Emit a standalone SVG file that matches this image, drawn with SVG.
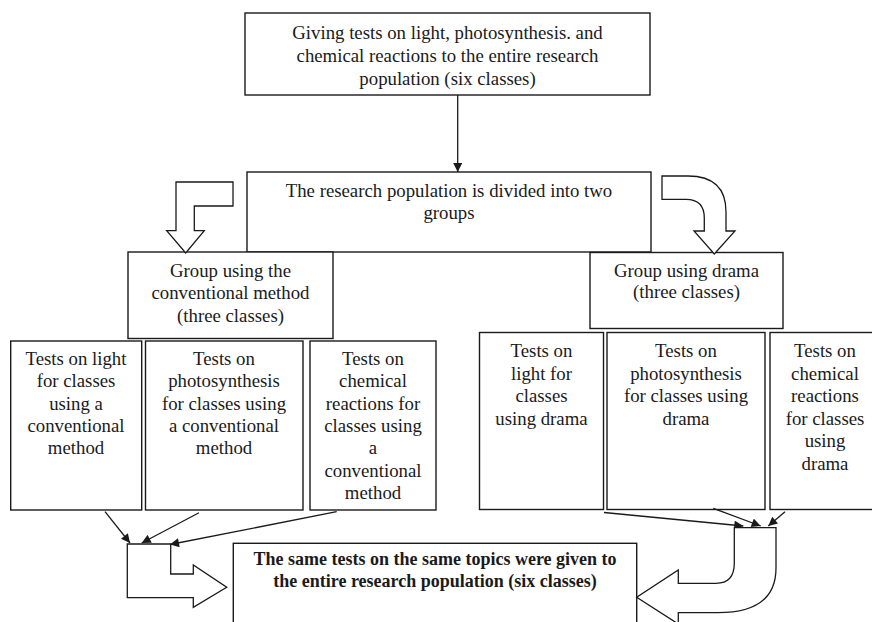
<svg xmlns="http://www.w3.org/2000/svg" width="872" height="622" viewBox="0 0 872 622" font-family="'Liberation Serif', 'Times New Roman', serif">
<style>
.box{fill:#fff;stroke:#1a1a1a;stroke-width:1.4}
.hol{fill:#fff;stroke:#1a1a1a;stroke-width:1.3;stroke-linejoin:miter}
.ln{fill:none;stroke:#1a1a1a;stroke-width:1.3}
text{font-family:'Liberation Serif','Times New Roman',serif;font-size:18.8px;fill:#1a1a1a;text-anchor:middle}
.b{font-weight:bold;font-size:18px}
</style>
<defs>
<marker id="ah" viewBox="0 0 10 10" refX="10" refY="5" markerWidth="10" markerHeight="9" markerUnits="userSpaceOnUse" orient="auto">
<path d="M0,0 L10,5 L0,10 Z" fill="#1a1a1a"/>
</marker>
</defs>
<rect width="872" height="622" fill="#fff"/>
<g id="n-top">
<rect class="box" x="245" y="13" width="405" height="82"/>
<text x="447.5" y="39">Giving tests on light, photosynthesis. and</text>
<text x="447.5" y="62">chemical reactions to the entire research</text>
<text x="447.5" y="85">population (six classes)</text>
</g>
<g id="n-divided">
<rect class="box" x="247" y="172" width="404" height="80"/>
<text x="449" y="197">The research population is divided into two</text>
<text x="449" y="219">groups</text>
</g>
<g id="n-conv">
<rect class="box" x="128" y="252" width="205" height="86.5"/>
<text x="230.5" y="277">Group using the</text>
<text x="230.5" y="299">conventional method</text>
<text x="230.5" y="322">(three classes)</text>
</g>
<g id="n-drama">
<rect class="box" x="590" y="252.5" width="193" height="76"/>
<text x="686.5" y="277">Group using drama</text>
<text x="686.5" y="298">(three classes)</text>
</g>
<g id="n-c1">
<rect class="box" x="10.7" y="341" width="131" height="169"/>
<text x="76" y="365">Tests on light</text>
<text x="76" y="387.3">for classes</text>
<text x="76" y="409.6">using a</text>
<text x="76" y="431.9">conventional</text>
<text x="76" y="454.2">method</text>
</g>
<g id="n-c2">
<rect class="box" x="145.5" y="341" width="157.5" height="169"/>
<text x="224" y="365">Tests on</text>
<text x="224" y="387.3">photosynthesis</text>
<text x="224" y="409.6">for classes using</text>
<text x="224" y="431.9">a conventional</text>
<text x="224" y="454.2">method</text>
</g>
<g id="n-c3">
<rect class="box" x="310" y="341" width="126" height="169"/>
<text x="373" y="365">Tests on</text>
<text x="373" y="387.3">chemical</text>
<text x="373" y="409.6">reactions for</text>
<text x="373" y="431.9">classes using</text>
<text x="373" y="454.2">a</text>
<text x="373" y="476.5">conventional</text>
<text x="373" y="498.8">method</text>
</g>
<g id="n-d1">
<rect class="box" x="479.5" y="332.5" width="124" height="177"/>
<text x="541.5" y="357">Tests on</text>
<text x="541.5" y="379.5">light for</text>
<text x="541.5" y="402">classes</text>
<text x="541.5" y="424.5">using drama</text>
</g>
<g id="n-d2">
<rect class="box" x="607" y="332.5" width="158" height="177"/>
<text x="686" y="357">Tests on</text>
<text x="686" y="379.5">photosynthesis</text>
<text x="686" y="402">for classes using</text>
<text x="686" y="424.5">drama</text>
</g>
<g id="n-d3">
<rect class="box" x="770" y="332.5" width="110" height="177"/>
<text x="825" y="357">Tests on</text>
<text x="825" y="379.5">chemical</text>
<text x="825" y="402">reactions</text>
<text x="825" y="424.5">for classes</text>
<text x="825" y="447">using</text>
<text x="825" y="469.5">drama</text>
</g>
<g id="n-bottom">
<rect class="box" x="233.3" y="543.3" width="403.4" height="90"/>
<text class="b" x="435" y="565">The same tests on the same topics were given to</text>
<text class="b" x="435" y="587">the entire research population (six classes)</text>
</g>
<g id="connectors">
<line class="ln" x1="457.7" y1="95" x2="457.7" y2="172" marker-end="url(#ah)"/>
<path class="hol" d="M176,182 L233,182 L233,206 L194.3,206 L194.3,230.7 L204.3,230.7 L185.7,253 L166.7,230.7 L176,230.7 Z"/>
<path class="hol" d="M662,176 L688,176 Q726,176 726,212 L726,231 L735,231 L714.3,254 L694,231 L704.3,231 L704.3,218 Q704.3,199.3 686,199.3 L662,199.3 Z"/>
<line class="ln" x1="105" y1="511.7" x2="130" y2="543" marker-end="url(#ah)"/>
<line class="ln" x1="199" y1="512.7" x2="141.7" y2="543" marker-end="url(#ah)"/>
<line class="ln" x1="336.7" y1="511.7" x2="170" y2="544.5" marker-end="url(#ah)"/>
<path class="hol" d="M127.3,544 L170.7,544 L170.7,574 L193.3,574 L193.3,565 L226.7,587.3 L193.3,607.3 L193.3,597.7 L127.3,597.7 Z"/>
<line class="ln" x1="604" y1="512.5" x2="743.3" y2="526" marker-end="url(#ah)"/>
<line class="ln" x1="713.3" y1="508.3" x2="760.7" y2="526" marker-end="url(#ah)"/>
<line class="ln" x1="785" y1="511.7" x2="768.3" y2="526" marker-end="url(#ah)"/>
<path class="hol" d="M734.3,527.7 L776,527.7 L776,568 Q776,612.7 718,612.7 L678.3,612.7 L678.3,624 L636.7,597.3 L678.3,570 L678.3,583.3 L716,583.3 Q734.3,583.3 734.3,563 Z"/>
</g>
</svg>
